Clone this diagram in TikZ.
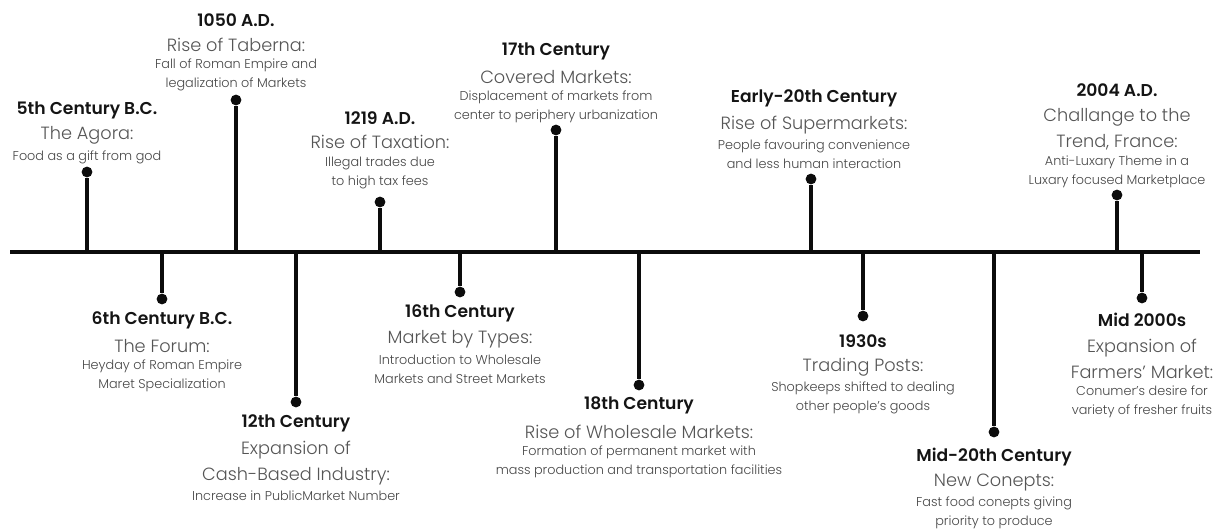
\documentclass[tikz,border=0pt]{standalone}
\usepackage{fontspec}
\setmainfont{Poppins}
\newfontfamily\lightfont{Poppins Light}
\newfontfamily\semifont{Poppins SemiBold}
\usepackage{tikz}
\usetikzlibrary{positioning}
\definecolor{linecol}{RGB}{12,12,12}
\definecolor{ttlcol} {RGB}{20,20,20}
\definecolor{subcol} {RGB}{85,85,85}
\definecolor{txtcol} {RGB}{70,70,70}
\begin{document}
\begin{tikzpicture}[
  x=0.025cm,y=-0.025cm,
  dot/.style={circle,fill=linecol,inner sep=0pt,minimum size=0.27cm},
  stem/.style={draw=linecol,line width=2.3pt},
  axis/.style={draw=linecol,line width=3pt},
  ttl/.style={font=\semifont\fontsize{12.2}{14}\selectfont,text=ttlcol,
              inner sep=0pt,align=center},
  sub/.style={font=\lightfont\fontsize{12.6}{18.5}\selectfont,text=subcol,
              inner sep=0pt,align=center},
  txt/.style={font=\lightfont\fontsize{9.1}{13.5}\selectfont,text=txtcol,
              inner sep=0pt,align=center}
]
\useasboundingbox (0,0) rectangle (1220,530);
\coordinate (ax0) at (10,252);
\coordinate (ax1) at (1200,252);
\draw[axis] (ax0)--(ax1);
% events above the line
\coordinate (a1) at (87,252);
\node[dot] (d1) at (87,172) {};
\draw[stem] (a1)--(d1);
\node[ttl] (t1) at (87,110) {5th Century B.C.};
\node[sub] (s1) at (87,135) {The Agora:};
\node[txt] (b1) at (87,157) {Food as a gift from god};
\coordinate (a2) at (236,252);
\node[dot] (d2) at (236,100) {};
\draw[stem] (a2)--(d2);
\node[ttl] (t2) at (236,20) {1050 A.D.};
\node[sub] (s2) at (236,45) {Rise of Taberna:};
\node[txt] (b2) at (236,74.5) {Fall of Roman Empire and\\legalization of Markets};
\coordinate (a3) at (380,252);
\node[dot] (d3) at (380,202) {};
\draw[stem] (a3)--(d3);
\node[ttl] (t3) at (380,118) {1219 A.D.};
\node[sub] (s3) at (380,142) {Rise of Taxation:};
\node[txt] (b3) at (380,172.5) {Illegal trades due\\to high tax fees};
\coordinate (a4) at (556,252);
\node[dot] (d4) at (556,130) {};
\draw[stem] (a4)--(d4);
\node[ttl] (t4) at (556,51) {17th Century};
\node[sub] (s4) at (556,77) {Covered Markets:};
\node[txt] (b4) at (556,106.5) {Displacement of markets from\\center to periphery urbanization};
\coordinate (a5) at (811,252);
\node[dot] (d5) at (811,179) {};
\draw[stem] (a5)--(d5);
\node[ttl] (t5) at (814,98) {Early-20th Century};
\node[sub] (s5) at (814,125) {Rise of Supermarkets:};
\node[txt] (b5) at (814,154.5) {People favouring convenience\\and less human interaction};
\coordinate (a6) at (1117,252);
\node[dot] (d6) at (1117,195) {};
\draw[stem] (a6)--(d6);
\node[ttl] (t6) at (1117,90) {2004 A.D.};
\node[sub] (s6) at (1117,129) {Challange to the\\Trend, France:};
\node[txt] (b6) at (1117,171.5) {Anti-Luxary Theme in a\\Luxary focused Marketplace};
% events below the line
\coordinate (a7) at (162,252);
\node[dot] (d7) at (162,299) {};
\draw[stem] (a7)--(d7);
\node[ttl] (t7) at (162,320) {6th Century B.C.};
\node[sub] (s7) at (162,346) {The Forum:};
\node[txt] (b7) at (162,375.5) {Heyday of Roman Empire\\Maret Specialization};
\coordinate (a8) at (296,252);
\node[dot] (d8) at (296,402) {};
\draw[stem] (a8)--(d8);
\node[ttl] (t8) at (296,423) {12th Century};
\node[sub] (s8) at (296,463) {Expansion of\\Cash-Based Industry:};
\node[txt] (b8) at (296,496) {Increase in PublicMarket Number};
\coordinate (a9) at (460,252);
\node[dot] (d9) at (460,292) {};
\draw[stem] (a9)--(d9);
\node[ttl] (t9) at (460,313) {16th Century};
\node[sub] (s9) at (460,339) {Market by Types:};
\node[txt] (b9) at (460,369) {Introduction to Wholesale\\Markets and Street Markets};
\coordinate (a10) at (639,252);
\node[dot] (d10) at (639,385) {};
\draw[stem] (a10)--(d10);
\node[ttl] (t10) at (639,405) {18th Century};
\node[sub] (s10) at (639,432) {Rise of Wholesale Markets:};
\node[txt] (b10) at (639,461.5) {Formation of permanent market with\\mass production and transportation facilities};
\coordinate (a11) at (863,252);
\node[dot] (d11) at (863,316) {};
\draw[stem] (a11)--(d11);
\node[ttl] (t11) at (863,341) {1930s};
\node[sub] (s11) at (863,367) {Trading Posts:};
\node[txt] (b11) at (863,397.5) {Shopkeeps shifted to dealing\\other people’s goods};
\coordinate (a12) at (994,252);
\node[dot] (d12) at (994,432) {};
\draw[stem] (a12)--(d12);
\node[ttl] (t12) at (994,457) {Mid-20th Century};
\node[sub] (s12) at (994,483) {New Conepts:};
\node[txt] (b12) at (994,513) {Fast food conepts giving\\priority to produce};
\coordinate (a13) at (1142,252);
\node[dot] (d13) at (1142,298) {};
\draw[stem] (a13)--(d13);
\node[ttl] (t13) at (1142,320) {Mid 2000s};
\node[sub] (s13) at (1142,359) {Expansion of\\Farmers’ Market:};
\node[txt] (b13) at (1142,401.5) {Conumer’s desire for\\variety of fresher fruits};
\end{tikzpicture}
\end{document}
